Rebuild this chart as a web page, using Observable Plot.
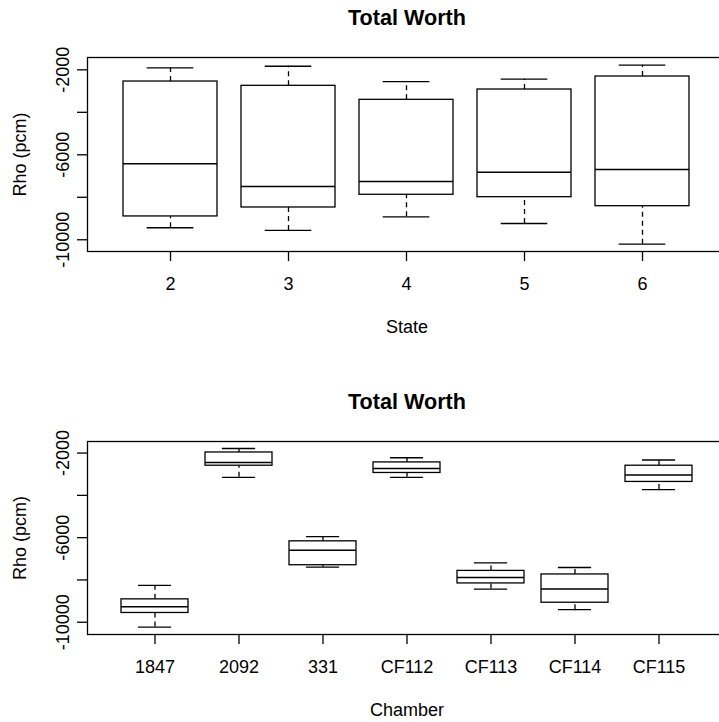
<!DOCTYPE html>
<html>
<head>
<meta charset="utf-8">
<script src="https://cdn.jsdelivr.net/npm/d3@7"></script>
<script src="https://cdn.jsdelivr.net/npm/@observablehq/plot@0.6"></script>
<style>
  html, body { margin: 0; padding: 0; background: white; overflow: hidden; }
  #wrap { width: 719px; height: 722px; overflow: hidden; position: relative; }
  #wrap svg { display: block; max-width: none !important; }
</style>
</head>
<body>
<div id="wrap"></div>
<script>
// ---- data ----
const plotTitle = "Total Worth";
const yLabel = "Rho (pcm)";
const yTicks = [-10000, -8000, -6000, -4000, -2000];
const yTickLabels = [-10000, -6000, -2000];

// Panel 1: by State
const stateLabel = "State";
const states = ["2", "3", "4", "5", "6"];
const stateLow  = [-9435, -9562, -8918, -9233, -10207];
const stateQ1   = [-8902, -8480, -7882, -7995, -8419];
const stateMed  = [-6424, -7492, -7256, -6818, -6692];
const stateQ3   = [-2551, -2753, -3412, -2927, -2315];
const stateHigh = [-1906, -1831, -2551, -2442, -1780];

// Panel 2: by Chamber
const chamberLabel = "Chamber";
const chambers = ["1847", "2092", "331", "CF112", "CF113", "CF114", "CF115"];
const chamberLow  = [-10230, -3148, -7398, -3148, -8433, -9407, -3727];
const chamberQ1   = [-9562, -2598, -7304, -2941, -8165, -9078, -3365];
const chamberMed  = [-9266, -2442, -6598, -2725, -7882, -8433, -3035];
const chamberQ3   = [-8918, -1972, -6174, -2442, -7572, -7741, -2598];
const chamberHigh = [-8259, -1784, -5953, -2221, -7195, -7412, -2329];

// ---- drawing ----
function panel({cats, lo, q1, med, q3, hi, xLabel, marginTop, marginBottom, yDomain}) {
  const rows = cats.map((c, i) => ({cat: c, lo: lo[i], q1: q1[i], med: med[i], q3: q3[i], hi: hi[i]}));
  const width = 740, marginLeft = 87, marginRight = 14;
  const n = cats.length;
  const paddingInner = 0.2;
  const paddingOuter = 0.1 + 0.04 * n;
  const step = (width - marginLeft - marginRight) / (n - paddingInner + 2 * paddingOuter);
  const capInset = step * (1 - paddingInner) / 4;
  const lw = 1.3;
  return Plot.plot({
    width, height: 361, marginLeft, marginRight, marginTop, marginBottom,
    style: {fontFamily: "'Liberation Sans', Arial, sans-serif", fontSize: "18px", color: "black", background: "white", overflow: "visible", maxWidth: "none"},
    x: {type: "band", domain: cats, paddingInner, paddingOuter, align: 0.5},
    y: {domain: yDomain},
    marks: [
      Plot.ruleX(rows, {x: "cat", y1: "q3", y2: "hi", stroke: "black", strokeWidth: lw, strokeDasharray: "5,4"}),
      Plot.ruleX(rows, {x: "cat", y1: "lo", y2: "q1", stroke: "black", strokeWidth: lw, strokeDasharray: "5,4"}),
      Plot.barY(rows, {x: "cat", y1: "q1", y2: "q3", fill: "white", stroke: "black", strokeWidth: lw}),
      Plot.tickY(rows, {x: "cat", y: "med", stroke: "black", strokeWidth: lw + 0.2}),
      Plot.tickY(rows, {x: "cat", y: "hi", stroke: "black", strokeWidth: lw, insetLeft: capInset, insetRight: capInset}),
      Plot.tickY(rows, {x: "cat", y: "lo", stroke: "black", strokeWidth: lw, insetLeft: capInset, insetRight: capInset}),
      Plot.frame({stroke: "black", strokeWidth: lw}),
      Plot.axisX({tickSize: 10, tickPadding: 16, strokeWidth: lw, label: xLabel, labelAnchor: "center", labelOffset: 81, labelArrow: "none"}),
      Plot.axisY({ticks: yTicks, tickSize: 10, tickRotate: -90, tickPadding: 9, strokeWidth: lw,
        tickFormat: d => yTickLabels.includes(d) ? String(d) : "",
        label: yLabel, labelAnchor: "center", labelOffset: 74, labelArrow: "none"}),
      Plot.text([plotTitle], {frameAnchor: "top", text: d => d, dy: -33, lineAnchor: "bottom", fontWeight: "bold", fontSize: 21.6})
    ]
  });
}

const wrap = document.getElementById("wrap");
wrap.appendChild(panel({
  cats: states, lo: stateLow, q1: stateQ1, med: stateMed, q3: stateQ3, hi: stateHigh,
  xLabel: stateLabel, marginTop: 57, marginBottom: 110, yDomain: [-10552, -1420]
}));
wrap.appendChild(panel({
  cats: chambers, lo: chamberLow, q1: chamberQ1, med: chamberMed, q3: chamberQ3, hi: chamberHigh,
  xLabel: chamberLabel, marginTop: 80, marginBottom: 88, yDomain: [-10580, -1453]
}));
</script>
</body>
</html>
